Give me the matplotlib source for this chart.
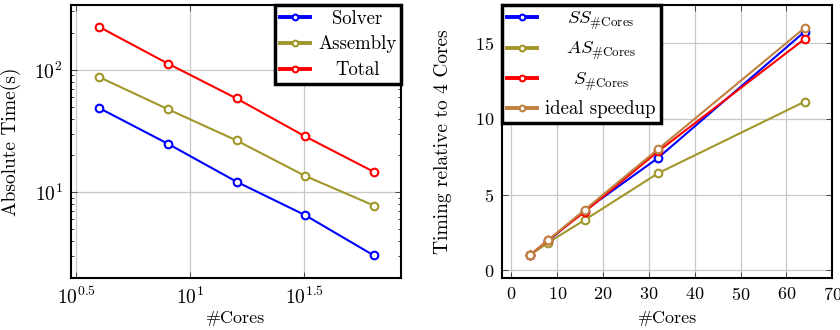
import matplotlib
matplotlib.use('Agg')
import matplotlib.pyplot as plt
from matplotlib.ticker import NullLocator, LogLocator, NullFormatter

plt.rcParams['font.family'] = 'serif'
plt.rcParams['font.serif'] = ['cmr10', 'DejaVu Serif']
plt.rcParams['mathtext.fontset'] = 'cm'
plt.rcParams['axes.formatter.use_mathtext'] = True
plt.rcParams['font.size'] = 13

cores = [4, 8, 16, 32, 64]

# absolute times (s)
solver = [48.7, 24.9, 12.2, 6.5, 3.05]
assembly = [87.2, 47.7, 26.5, 13.6, 7.8]
total = [224, 112.5, 58.4, 28.6, 14.7]

# speedup relative to 4 cores
ss = [1, 1.95, 3.95, 7.42, 15.75]
as_ = [1, 1.84, 3.33, 6.41, 11.13]
s = [1, 2.0, 3.87, 7.85, 15.27]
ideal = [1, 2, 4, 8, 16]

BLUE = '#0000ff'
OLIVE = '#a0962a'
RED = '#ff0000'
BROWN = '#bf8040'
GRID = '#c8c8c8'

fig = plt.figure(figsize=(8.4, 3.3), dpi=100)
ax1 = fig.add_axes([71 / 840, 52 / 330, 330 / 840, 273 / 330])
ax2 = fig.add_axes([502.3 / 840, 52 / 330, 330 / 840, 273 / 330])

line_kw = dict(lw=1.5, marker='o', ms=5.5, mfc='white', mew=1.5)
leg_kw = dict(borderaxespad=0, fancybox=False, edgecolor='black',
              framealpha=1, handlelength=1.6, handletextpad=0.45,
              borderpad=0.25, labelspacing=0.42, markerscale=0.75,
              fontsize=13.5)


def style(ax):
    for sp in ax.spines.values():
        sp.set_linewidth(1.5)
    ax.grid(True, which='major', color=GRID, lw=0.9)
    ax.set_axisbelow(True)
    ax.tick_params(which='both', direction='in', top=True, right=True,
                   width=0.7, color='#444444')
    ax.tick_params(which='major', length=4, pad=6)
    ax.tick_params(which='minor', length=2.5)


def fix_legend(leg):
    leg.get_frame().set_linewidth(2.5)
    for h in leg.get_lines():
        h.set_linewidth(2.8)


def center_texts(leg):
    # pgfplots centres legend entries; shift narrower texts right
    r = fig.canvas.get_renderer()
    texts = leg.get_texts()
    widths = [t.get_window_extent(r).width for t in texts]
    wmax = max(widths)
    for t, w in zip(texts, widths):
        t.set_position(((wmax - w) / 2, 0))


# left: absolute times
ax1.plot(cores, solver, color=BLUE, label='Solver', **line_kw)
ax1.plot(cores, assembly, color=OLIVE, label='Assembly', **line_kw)
ax1.plot(cores, total, color=RED, label='Total', **line_kw)
ax1.set_xscale('log')
ax1.set_yscale('log')
ax1.set_xlim(10 ** 0.4776, 10 ** 1.9255)
ax1.set_ylim(10 ** 0.3, 10 ** 2.53)
ax1.set_xticks([10 ** 0.5, 10, 10 ** 1.5])
ax1.set_xticklabels(['$10^{0.5}$', '$10^{1}$', '$10^{1.5}$'], fontsize=14)
ax1.xaxis.set_minor_locator(NullLocator())
ax1.set_yticks([10, 100])
ax1.set_yticklabels(['$10^{1}$', '$10^{2}$'], fontsize=14)
ax1.yaxis.set_minor_locator(LogLocator(subs=range(2, 10)))
ax1.yaxis.set_minor_formatter(NullFormatter())
ax1.set_xlabel('#Cores')
ax1.set_ylabel('Absolute Time(s)', fontsize=14)
ax1.xaxis.set_label_coords(0.5, -0.12)
ax1.yaxis.set_label_coords(-0.153, 0.5)
style(ax1)
leg1 = ax1.legend(loc='upper right', **leg_kw)
fix_legend(leg1)

# right: speedup
ax2.plot(cores, ss, color=BLUE, label=r'$SS_{\#\mathrm{Cores}}$', **line_kw)
ax2.plot(cores, as_, color=OLIVE, label=r'$AS_{\#\mathrm{Cores}}$', **line_kw)
ax2.plot(cores, s, color=RED, label=r'$S_{\#\mathrm{Cores}}$', **line_kw)
ax2.plot(cores, ideal, color=BROWN, label='ideal speedup', **line_kw)
ax2.set_xlim(-2, 70)
ax2.set_ylim(-0.5, 17.5)
ax2.set_xticks(range(0, 71, 10))
ax2.set_yticks([0, 5, 10, 15])
ax2.set_xlabel('#Cores')
ax2.set_ylabel('Timing relative to 4 Cores', fontsize=14)
ax2.xaxis.set_label_coords(0.5, -0.12)
ax2.yaxis.set_label_coords(-0.153, 0.5)
style(ax2)
leg2 = ax2.legend(loc='upper left', **leg_kw)
fix_legend(leg2)

fig.canvas.draw()
center_texts(leg1)
center_texts(leg2)

fig.savefig('out.png', dpi=100)
